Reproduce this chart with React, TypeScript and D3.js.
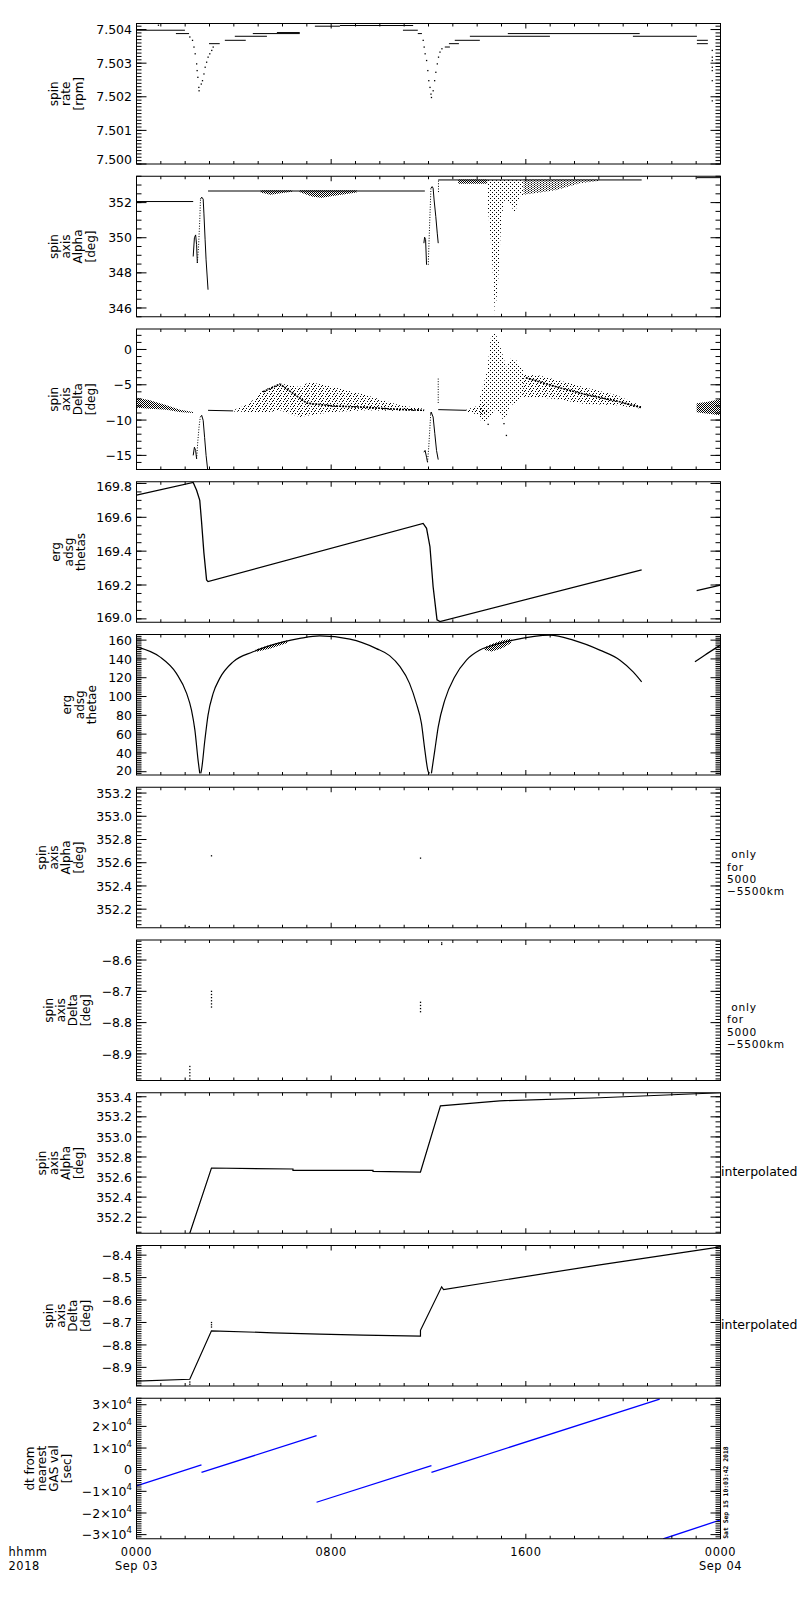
import React from 'react';
import * as d3 from 'd3';

type Pt = [number, number];
type Band = [number, number, number];
type Seg = [number, number, number];

// ---------- time axis (hours from 2018-09-03 00:00) ----------
const hourTicks: number[] = d3.range(0, 25);
const majorHourTicks: number[] = [0, 8, 16, 24];
const hourLabels: string[] = ['0000', '0800', '1600', '0000'];
const dateLabels: string[] = ['Sep 03', '', '', 'Sep 04'];

// ---------- panel 1: spin rate [rpm] ----------
const spinRateTicks = [7.5, 7.501, 7.502, 7.503, 7.504];
const spinRateTickLabels = ['7.500', '7.501', '7.502', '7.503', '7.504'];
const spinRateLevels: Seg[] = [
  [0, 1.99, 7.50398], [1.62, 2.16, 7.50388], [2.98, 3.42, 7.50358], [3.63, 4.49, 7.50368],
  [4.04, 5.36, 7.5038], [4.78, 6.71, 7.50388], [5.77, 6.71, 7.50391], [7.33, 8.36, 7.5041],
  [8.36, 11.37, 7.50412], [10.95, 11.56, 7.50398], [11.56, 11.73, 7.50388], [12.67, 12.88, 7.50348],
  [12.84, 13.25, 7.50358], [13.08, 14.11, 7.50368], [13.7, 16.99, 7.5038], [15.26, 20.68, 7.50388],
  [20.4, 23.03, 7.5038], [23.03, 23.48, 7.50368], [23.03, 23.48, 7.50358],
];
const spinRateDots: Pt[] = [
  [2.19, 7.50378], [2.3, 7.50368], [2.36, 7.50348], [2.41, 7.50328], [2.47, 7.50298], [2.49, 7.50278],
  [2.52, 7.50258], [2.56, 7.50228], [2.57, 7.50218], [2.66, 7.50238], [2.71, 7.50248], [2.77, 7.50268],
  [2.82, 7.50288], [2.88, 7.50303], [2.94, 7.50318], [3.01, 7.50328], [3.09, 7.50338], [3.15, 7.50348],
  [11.78, 7.50368], [11.82, 7.50348], [11.86, 7.50328], [11.92, 7.50308], [11.97, 7.50278], [12.01, 7.50248],
  [12.06, 7.50228], [12.1, 7.50208], [12.12, 7.50198], [12.19, 7.50218], [12.25, 7.50248], [12.3, 7.50273],
  [12.36, 7.50298], [12.41, 7.50318], [12.47, 7.50333], [12.55, 7.50343],
  [23.66, 7.50338], [23.66, 7.50318], [23.66, 7.50308], [23.66, 7.50288], [23.66, 7.50278], [23.66, 7.50248],
  [23.66, 7.50188], [0.9, 7.50413],
];

// ---------- panel 2: spin axis Alpha [deg] ----------
const alphaTicks = [346, 348, 350, 352];
const alphaTickLabels = ['346', '348', '350', '352'];
const alphaLines: Pt[][] = [
  [[0, 352.06], [2.33, 352.06]],
  [[2.33, 348.93], [2.38, 350.0], [2.43, 350.16], [2.47, 349.6], [2.5, 348.56]],
  [[2.63, 352.2], [2.68, 352.31], [2.74, 352.2], [2.77, 351.4], [2.82, 349.88], [2.86, 348.74], [2.94, 347.04]],
  [[2.94, 352.66], [11.85, 352.66]],
  [[11.81, 349.69], [11.84, 350.03], [11.88, 349.9], [11.92, 348.46]],
  [[12.1, 352.82], [12.15, 352.91], [12.19, 352.82], [12.23, 352.15], [12.3, 351.2], [12.36, 350.26], [12.4, 349.69]],
  [[12.4, 353.29], [20.76, 353.29]],
  [[23.02, 353.42], [24, 353.42]],
];
const alphaDotted: Pt[][] = [
  [[2.5, 348.56], [2.55, 349.5], [2.6, 351.0], [2.63, 352.2]],
  [[11.99, 348.46], [12.04, 350.5], [12.1, 352.82]],
  [[12.41, 352.6], [12.41, 353.29]],
];
const alphaBandsThin: Band[][] = [
  [[5.1, 352.58, 352.7], [5.5, 352.44, 352.7], [6.0, 352.55, 352.7], [6.4, 352.62, 352.7]],
  [[6.7, 352.6, 352.7], [7.2, 352.35, 352.7], [7.6, 352.27, 352.7], [8.2, 352.4, 352.7], [9.05, 352.58, 352.7]],
  [[13.22, 353.08, 353.32], [14.41, 353.08, 353.32]],
];
const alphaBandsWide: Band[][] = [
  [[15.9, 352.45, 353.32], [16.58, 352.57, 353.32], [17.26, 352.72, 353.32], [18.22, 353.1, 353.32], [19.04, 353.25, 353.32]],
];
const alphaPlume: Band[] = [
  [14.41, 352.15, 353.32], [14.45, 351.5, 353.32], [14.59, 349.31, 353.32], [14.73, 345.62, 353.32],
  [14.86, 347.42, 353.32], [15.0, 351.2, 353.32], [15.14, 352.15, 353.32], [15.34, 351.96, 353.32],
  [15.55, 351.4, 353.32], [15.75, 352.34, 353.32], [15.9, 352.45, 353.32],
];

// ---------- panel 3: spin axis Delta [deg] ----------
const deltaTicks = [-15, -10, -5, 0];
const deltaTickLabels = ['\u221215', '\u221210', '\u22125', '0'];
const deltaLines: Pt[][] = [
  [[2.33, -15.0], [2.38, -13.84], [2.43, -14.3], [2.47, -15.48]],
  [[2.62, -9.6], [2.68, -9.33], [2.74, -10.04], [2.8, -12.5], [2.86, -15.0], [2.94, -17.5]],
  [[2.94, -8.62], [3.97, -8.7]],
  [[11.81, -14.55], [11.86, -14.3], [11.92, -15.26], [11.96, -15.97]],
  [[12.09, -9.2], [12.11, -8.86], [12.19, -9.57], [12.26, -11.93], [12.33, -14.3], [12.4, -15.6]],
  [[12.4, -8.52], [13.56, -8.62]],
];
const deltaDotted: Pt[][] = [
  [[2.47, -15.48], [2.52, -13.0], [2.57, -11.0], [2.62, -9.6]],
  [[11.96, -15.97], [12.01, -13.84], [12.05, -11.5], [12.09, -9.2]],
  [[12.4, -4.12], [12.4, -7.67]],
];
const deltaBandsEdge: Band[][] = [
  [[0, -8.24, -6.82], [0.55, -8.38, -7.2], [1.23, -8.52, -7.91], [1.78, -8.86, -8.52], [2.33, -9.0, -8.86]],
  [[23.02, -8.9, -7.6], [23.5, -9.1, -7.4], [24, -9.33, -7.0]],
];
const deltaBands: Band[][] = [
  [[3.97, -8.8, -8.6], [4.63, -8.86, -7.67], [5.2, -9.05, -5.78], [5.89, -8.62, -4.83], [6.71, -9.57, -5.3],
   [7.12, -9.33, -4.6], [8.07, -8.86, -5.3], [9.45, -8.62, -6.5], [10.82, -8.7, -7.9], [11.82, -8.72, -8.4]],
  [[13.56, -8.8, -8.5], [14.11, -9.33, -7.91], [14.41, -9.0, -7.6]],
  [[15.89, -6.7, -3.6], [16.5, -6.8, -3.65], [17.26, -7.0, -4.3], [18.36, -7.67, -5.3], [19.73, -7.9, -6.5], [20.76, -8.4, -8.0]],
];
const deltaBandCores: Pt[][] = [
  [[5.2, -6.0], [5.89, -4.9], [7.0, -7.6], [8.07, -8.0], [9.45, -8.2], [10.82, -8.5], [11.82, -8.62]],
  [[16.0, -4.0], [17.26, -5.3], [18.36, -6.3], [19.73, -7.3], [20.76, -8.24]],
];
const deltaPlume: Band[] = [
  [14.1, -10.0, -6.9], [14.41, -10.2, -3.0], [14.55, -9.5, 1.5], [14.73, -8.5, 2.5], [14.9, -9.0, 1.0],
  [15.07, -10.0, -1.0], [15.2, -9.5, -2.5], [15.34, -8.0, -1.3], [15.6, -7.5, -1.5], [15.89, -6.7, -3.0],
];
const deltaDots: Pt[] = [[15.2, -12.17], [14.45, -10.6], [15.1, -10.5]];

// ---------- panel 4: erg adsg thetas ----------
const thetasTicks = [169.0, 169.2, 169.4, 169.6, 169.8];
const thetasTickLabels = ['169.0', '169.2', '169.4', '169.6', '169.8'];
const thetasLines: Pt[][] = [
  [[0, 169.731], [2.33, 169.806], [2.47, 169.76], [2.6, 169.7], [2.67, 169.58], [2.77, 169.39], [2.88, 169.23],
   [2.94, 169.22], [11.78, 169.564], [11.92, 169.535], [12.06, 169.426], [12.19, 169.19], [12.35, 168.994],
   [12.47, 168.984], [20.76, 169.289]],
  [[23.02, 169.167], [24, 169.2]],
];

// ---------- panel 5: erg adsg thetae ----------
const thetaeTicks = [20, 40, 60, 80, 100, 120, 140, 160];
const thetaeTickLabels = ['20', '40', '60', '80', '100', '120', '140', '160'];
const thetaeLines: Pt[][] = [
  [[0, 152.9], [0.96, 142.2], [1.64, 124.6], [2.06, 103.3], [2.26, 85.6], [2.4, 64.3], [2.53, 32.4], [2.6, 18.3]],
  [[2.64, 18.3], [2.67, 21.8], [2.81, 53.7], [2.94, 80.3], [3.15, 103.3], [3.42, 119.3], [3.97, 136.9], [4.79, 147.6],
   [6.03, 158.2], [6.71, 161.8], [7.53, 164.5], [8.77, 161], [9.86, 151], [10.4, 143.5], [10.82, 132],
   [11.22, 114], [11.5, 92.7], [11.71, 71.4], [11.85, 43], [11.99, 20], [12.05, 18.3]],
  [[12.12, 18.3], [12.26, 43], [12.4, 67.8], [12.67, 96.2], [13.08, 121], [13.56, 138.7], [14.11, 149.4], [14.66, 154.7],
   [15.48, 160], [16.99, 165.3], [17.95, 160], [19.04, 149.4], [19.87, 138.7], [20.41, 126.3], [20.76, 115.7]],
  [[22.95, 136.9], [23.35, 144], [24, 154.7]],
];
const thetaeBands: Band[][] = [
  [[4.9, 147.5, 150], [5.5, 151, 155], [6.2, 157, 160]],
  [[14.3, 149.5, 152.5], [14.6, 148, 156], [15.0, 151, 159.5], [15.4, 157, 161.5]],
];

// ---------- panel 6: spin axis Alpha (5000-5500 km only) ----------
const alphaOnlyTicks = [352.2, 352.4, 352.6, 352.8, 353.0, 353.2];
const alphaOnlyTickLabels = ['352.2', '352.4', '352.6', '352.8', '353.0', '353.2'];
const alphaOnlyDots: Pt[] = [[3.08, 352.66], [2.16, 352.05], [11.67, 352.64]];

// ---------- panel 7: spin axis Delta (5000-5500 km only) ----------
const deltaOnlyTicks = [-8.9, -8.8, -8.7, -8.6];
const deltaOnlyTickLabels = ['\u22128.9', '\u22128.8', '\u22128.7', '\u22128.6'];
const deltaOnlyDots: Pt[] = [
  [3.08, -8.7], [3.08, -8.71], [3.08, -8.72], [3.08, -8.73], [3.08, -8.74], [3.08, -8.75],
  [2.19, -8.94], [2.19, -8.95], [2.19, -8.96], [2.19, -8.97], [2.19, -8.98],
  [11.67, -8.735], [11.67, -8.745], [11.67, -8.755], [11.67, -8.765],
  [12.54, -8.545], [12.54, -8.55],
];

// ---------- panel 8: spin axis Alpha interpolated ----------
const alphaInterpTicks = [352.2, 352.4, 352.6, 352.8, 353.0, 353.2, 353.4];
const alphaInterpTickLabels = ['352.2', '352.4', '352.6', '352.8', '353.0', '353.2', '353.4'];
const alphaInterp: Pt[] = [
  [2.19, 352.04], [3.08, 352.69], [6.43, 352.68], [6.43, 352.666], [9.72, 352.666], [9.72, 352.656],
  [11.67, 352.65], [12.49, 353.31], [14.93, 353.36], [19.04, 353.39], [24, 353.44],
];

// ---------- panel 9: spin axis Delta interpolated ----------
const deltaInterpTicks = [-8.9, -8.8, -8.7, -8.6, -8.5, -8.4];
const deltaInterpTickLabels = ['\u22128.9', '\u22128.8', '\u22128.7', '\u22128.6', '\u22128.5', '\u22128.4'];
const deltaInterp: Pt[] = [
  [0, -8.961], [2.19, -8.953], [3.08, -8.737], [5.61, -8.746], [7.53, -8.752], [9.31, -8.756],
  [11.67, -8.761], [11.67, -8.735], [12.54, -8.541], [12.62, -8.553], [19.04, -8.443], [24, -8.363],
];
const deltaInterpDots: Pt[] = [[3.08, -8.7], [3.08, -8.71], [3.08, -8.72], [2.19, -8.965], [2.19, -8.975]];

// ---------- panel 10: dt from nearest GAS val [sec] ----------
const dtTicks = [-30000, -20000, -10000, 0, 10000, 20000, 30000];
const dtTickLabels = ['\u22123\u00d710^4', '\u22122\u00d710^4', '\u22121\u00d710^4', '0', '1\u00d710^4', '2\u00d710^4', '3\u00d710^4'];
const dtSegments: Pt[][] = [
  [[0, -7520], [2.67, 2170]],
  [[2.67, -1200], [7.4, 15690]],
  [[7.4, -15040], [12.12, 1850]],
  [[12.12, -1200], [21.5, 32600]],
  [[21.64, -32000], [24, -23200]],
];

// ---------- side notes ----------
const onlyNoteLines: string[] = [' only', 'for', '5000', '\u22125500km'];
const interpNote = 'interpolated';
const stampText = 'Sat Sep 15 10:03:42 2018';
const cornerLabels: string[] = ['hhmm', '2018'];

// ---------- layout ----------
const X0 = 136.5;
const X1 = 720.5;
const TOP0 = 23.5;
const PITCH = 152.75;
const PH = 140.5;
const FONT = '"DejaVu Sans", Verdana, sans-serif';

interface PanelCfg {
  title: string[];
  titleBase: number;
  domain: [number, number];
  ticks: number[];
  labels: string[];
  minor: number;
  sideKind?: 'only' | 'interp';
}

const panels: PanelCfg[] = [
  { title: ['spin', 'rate', '[rpm]'], titleBase: 82.5, domain: [7.5, 7.50418], ticks: spinRateTicks, labels: spinRateTickLabels, minor: 10 },
  { title: ['spin', 'axis', 'Alpha', '[deg]'], titleBase: 94.5, domain: [345.5, 353.5], ticks: alphaTicks, labels: alphaTickLabels, minor: 4 },
  { title: ['spin', 'axis', 'Delta', '[deg]'], titleBase: 94.5, domain: [-17.0, 2.9], ticks: deltaTicks, labels: deltaTickLabels, minor: 5 },
  { title: ['erg', 'adsg', 'thetas'], titleBase: 85, domain: [168.98, 169.81], ticks: thetasTicks, labels: thetasTickLabels, minor: 4 },
  { title: ['erg', 'adsg', 'thetae'], titleBase: 96, domain: [16.5, 166], ticks: thetaeTicks, labels: thetaeTickLabels, minor: 10 },
  { title: ['spin', 'axis', 'Alpha', '[deg]'], titleBase: 82.5, domain: [352.04, 353.25], ticks: alphaOnlyTicks, labels: alphaOnlyTickLabels, minor: 6, sideKind: 'only' },
  { title: ['spin', 'axis', 'Delta', '[deg]'], titleBase: 89.5, domain: [-8.985, -8.536], ticks: deltaOnlyTicks, labels: deltaOnlyTickLabels, minor: 10, sideKind: 'only' },
  { title: ['spin', 'axis', 'Alpha', '[deg]'], titleBase: 82.5, domain: [352.04, 353.44], ticks: alphaInterpTicks, labels: alphaInterpTickLabels, minor: 4, sideKind: 'interp' },
  { title: ['spin', 'axis', 'Delta', '[deg]'], titleBase: 89.5, domain: [-8.983, -8.357], ticks: deltaInterpTicks, labels: deltaInterpTickLabels, minor: 10, sideKind: 'interp' },
  { title: ['dt from', 'nearest', 'GAS val', '[sec]'], titleBase: 70.5, domain: [-31900, 33000], ticks: dtTicks, labels: dtTickLabels, minor: 10 },
];

const x = d3.scaleLinear().domain([0, 24]).range([X0, X1]);

function minorValues(domain: [number, number], majors: number[], n: number): number[] {
  const step = (majors[1] - majors[0]) / n;
  const out: number[] = [];
  const k0 = Math.ceil((domain[0] - majors[0]) / step - 1e-6);
  const k1 = Math.floor((domain[1] - majors[0]) / step + 1e-6);
  for (let k = k0; k <= k1; k++) out.push(majors[0] + k * step);
  return out;
}

function PanelContent({ i, y }: { i: number; y: d3.ScaleLinear<number, number> }) {
  const line = d3.line<Pt>().x(d => x(d[0])).y(d => y(d[1]));
  const smooth = d3.line<Pt>().x(d => x(d[0])).y(d => y(d[1])).curve(d3.curveMonotoneX);
  const area = d3.area<Band>().x(d => x(d[0])).y0(d => y(d[1])).y1(d => y(d[2]));
  const dots = (pts: Pt[], key: string) =>
    pts.map((d, k) => (
      <rect key={key + k} x={x(d[0]) - 0.6} y={y(d[1]) - 0.6} width={1.3} height={1.3} fill="#000" />
    ));
  const lines = (ls: Pt[][], key: string, extra: any = {}, gen = line) =>
    ls.map((l, k) => <path key={key + k} d={gen(l) || ''} fill="none" stroke="#000" strokeWidth={1} {...extra} />);
  const bands = (bs: Band[][], key: string, pat: string) =>
    bs.map((b, k) => <path key={key + k} d={area(b) || ''} fill={`url(#${pat})`} />);

  switch (i) {
    case 0:
      return (
        <g>
          {spinRateLevels.map((s, k) => (
            <line key={'lv' + k} x1={x(s[0])} x2={x(s[1])} y1={y(s[2])} y2={y(s[2])} stroke="#000" strokeWidth={1} />
          ))}
          {dots(spinRateDots, 'd')}
        </g>
      );
    case 1:
      return (
        <g>
          {bands(alphaBandsThin, 'bt', 'dense')}
          {bands(alphaBandsWide, 'bw', 'medium')}
          <path d={area(alphaPlume) || ''} fill="url(#sparse)" />
          {lines(alphaLines, 'l')}
          {lines(alphaDotted, 'dl', { strokeDasharray: '1 1.6' })}
        </g>
      );
    case 2:
      return (
        <g>
          {bands(deltaBandsEdge, 'be', 'dense')}
          {bands(deltaBands, 'b', 'scatter')}
          {lines(deltaBandCores, 'c', { strokeWidth: 1.6, strokeDasharray: '2 1' })}
          <path d={area(deltaPlume) || ''} fill="url(#sparse)" />
          {lines(deltaLines, 'l')}
          {lines(deltaDotted, 'dl', { strokeDasharray: '1 1.6' })}
          {dots(deltaDots, 'd')}
        </g>
      );
    case 3:
      return <g>{lines(thetasLines, 'l', { strokeWidth: 1.3 })}</g>;
    case 4:
      return (
        <g>
          {bands(thetaeBands, 'b', 'dense')}
          {lines(thetaeLines, 'l', { strokeWidth: 1.2 }, smooth)}
        </g>
      );
    case 5:
      return <g>{dots(alphaOnlyDots, 'd')}</g>;
    case 6:
      return <g>{dots(deltaOnlyDots, 'd')}</g>;
    case 7:
      return <g>{lines([alphaInterp], 'l', { strokeWidth: 1.2 })}</g>;
    case 8:
      return (
        <g>
          {lines([deltaInterp], 'l', { strokeWidth: 1.2 })}
          {dots(deltaInterpDots, 'd')}
        </g>
      );
    case 9:
      return <g>{lines(dtSegments, 'l', { stroke: '#0000ff', strokeWidth: 1.3 })}</g>;
    default:
      return null;
  }
}

function TickLabel({ text, xPos, yPos }: { text: string; xPos: number; yPos: number }) {
  if (text.includes('^')) {
    const [base, exp] = text.split('^');
    return (
      <text x={xPos} y={yPos + 4.6} textAnchor="end" fontSize={12.5}>
        {base}
        <tspan dy={-5.5} fontSize={8.5}>{exp}</tspan>
      </text>
    );
  }
  return (
    <text x={xPos} y={yPos + 4.6} textAnchor="end" fontSize={12.5}>
      {text}
    </text>
  );
}

function Panel({ cfg, i }: { cfg: PanelCfg; i: number }) {
  const top = TOP0 + i * PITCH;
  const bottom = top + PH;
  const y = d3.scaleLinear().domain(cfg.domain).range([bottom, top]);
  const minors = minorValues(cfg.domain, cfg.ticks, cfg.minor);
  const midY = (top + bottom) / 2;
  const nT = cfg.title.length;
  return (
    <g>
      <defs>
        <clipPath id={'clip' + i}>
          <rect x={X0} y={top} width={X1 - X0} height={PH} />
        </clipPath>
      </defs>
      <g clipPath={`url(#clip${i})`}>
        <PanelContent i={i} y={y} />
      </g>
      <rect x={X0} y={top} width={X1 - X0} height={PH} fill="none" stroke="#000" strokeWidth={1} />
      {hourTicks.map(h => {
        const len = majorHourTicks.includes(h) ? 5 : 3;
        return (
          <g key={'xt' + h}>
            <line x1={x(h)} x2={x(h)} y1={top} y2={top + len} stroke="#000" />
            <line x1={x(h)} x2={x(h)} y1={bottom} y2={bottom - len} stroke="#000" />
          </g>
        );
      })}
      {minors.map((v, k) => (
        <g key={'ym' + k}>
          <line x1={X0} x2={X0 + 5} y1={y(v)} y2={y(v)} stroke="#000" />
          <line x1={X1} x2={X1 - 5} y1={y(v)} y2={y(v)} stroke="#000" />
        </g>
      ))}
      {cfg.ticks.map((v, k) => {
        const ty = y(v);
        const ly = Math.max(top + 4.5, Math.min(bottom - 4.5, ty));
        return (
          <g key={'yM' + k}>
            <line x1={X0} x2={X0 + 10} y1={ty} y2={ty} stroke="#000" />
            <line x1={X1} x2={X1 - 10} y1={ty} y2={ty} stroke="#000" />
            <TickLabel text={cfg.labels[k]} xPos={132} yPos={ly} />
          </g>
        );
      })}
      {cfg.title.map((t, k) => {
        const bx = cfg.titleBase - (nT - 1 - k) * 12.3;
        return (
          <text key={'tt' + k} transform={`translate(${bx},${midY}) rotate(-90)`} textAnchor="middle" fontSize={12}>
            {t}
          </text>
        );
      })}
      {cfg.sideKind === 'only' && (
        <text x={727} y={top + 67 + 4} fontSize={10.6} letterSpacing={0.8} style={{ whiteSpace: 'pre' }}>
          {onlyNoteLines.map((s, k) => (
            <tspan key={k} x={727} y={top + 67 + 4 + k * 12.4}>{s}</tspan>
          ))}
        </text>
      )}
      {cfg.sideKind === 'interp' && (
        <text x={721} y={top + 78.5 + 4.5} fontSize={12.5}>
          {interpNote}
        </text>
      )}
    </g>
  );
}

export default function App() {
  const lastBottom = TOP0 + 9 * PITCH + PH;
  const row1 = 1556;
  const row2 = 1569.5;
  return (
    <svg
      width={800}
      height={1600}
      style={{ position: 'absolute', left: 0, top: 0, background: '#fff' }}
      fontFamily={FONT}
    >
      <defs>
        <pattern id="dense" width={2} height={2} patternUnits="userSpaceOnUse">
          <rect x={0} y={0} width={1} height={1} fill="#000" />
          <rect x={1} y={1} width={1} height={1} fill="#000" />
        </pattern>
        <pattern id="medium" width={3} height={2} patternUnits="userSpaceOnUse">
          <rect x={0} y={0} width={1} height={1} fill="#000" />
          <rect x={1.5} y={1} width={1} height={1} fill="#000" />
        </pattern>
        <pattern id="scatter" width={7} height={5} patternUnits="userSpaceOnUse">
          <rect x={0} y={0} width={1} height={1} fill="#000" />
          <rect x={3} y={1} width={1} height={1} fill="#000" />
          <rect x={5} y={3} width={1} height={1} fill="#000" />
          <rect x={1} y={3} width={1} height={1} fill="#000" />
          <rect x={4} y={4} width={1} height={1} fill="#000" />
          <rect x={6} y={1} width={1} height={1} fill="#000" />
        </pattern>
        <pattern id="sparse" width={4} height={4} patternUnits="userSpaceOnUse">
          <rect x={0} y={0} width={1} height={1} fill="#000" />
          <rect x={2} y={2} width={1} height={1} fill="#000" />
        </pattern>
      </defs>
      <rect x={0} y={0} width={800} height={1600} fill="#fff" />
      {panels.map((p, i) => (
        <Panel key={i} cfg={p} i={i} />
      ))}
      {majorHourTicks.map((h, k) => (
        <g key={'hl' + k} fontSize={11.4} letterSpacing={0.6} textAnchor="middle">
          <text x={x(h)} y={row1}>{hourLabels[k]}</text>
          {dateLabels[k] && <text x={x(h)} y={row2}>{dateLabels[k]}</text>}
        </g>
      ))}
      <text x={8.5} y={row1} fontSize={11.4} letterSpacing={0.6}>{cornerLabels[0]}</text>
      <text x={8.5} y={row2} fontSize={11.4} letterSpacing={0.6}>{cornerLabels[1]}</text>
      <text
        transform={`translate(728,${lastBottom}) rotate(-90)`}
        fontSize={6.4}
        fontFamily='"DejaVu Sans Mono", monospace'
        fontWeight="bold"
      >
        {stampText}
      </text>
    </svg>
  );
}
